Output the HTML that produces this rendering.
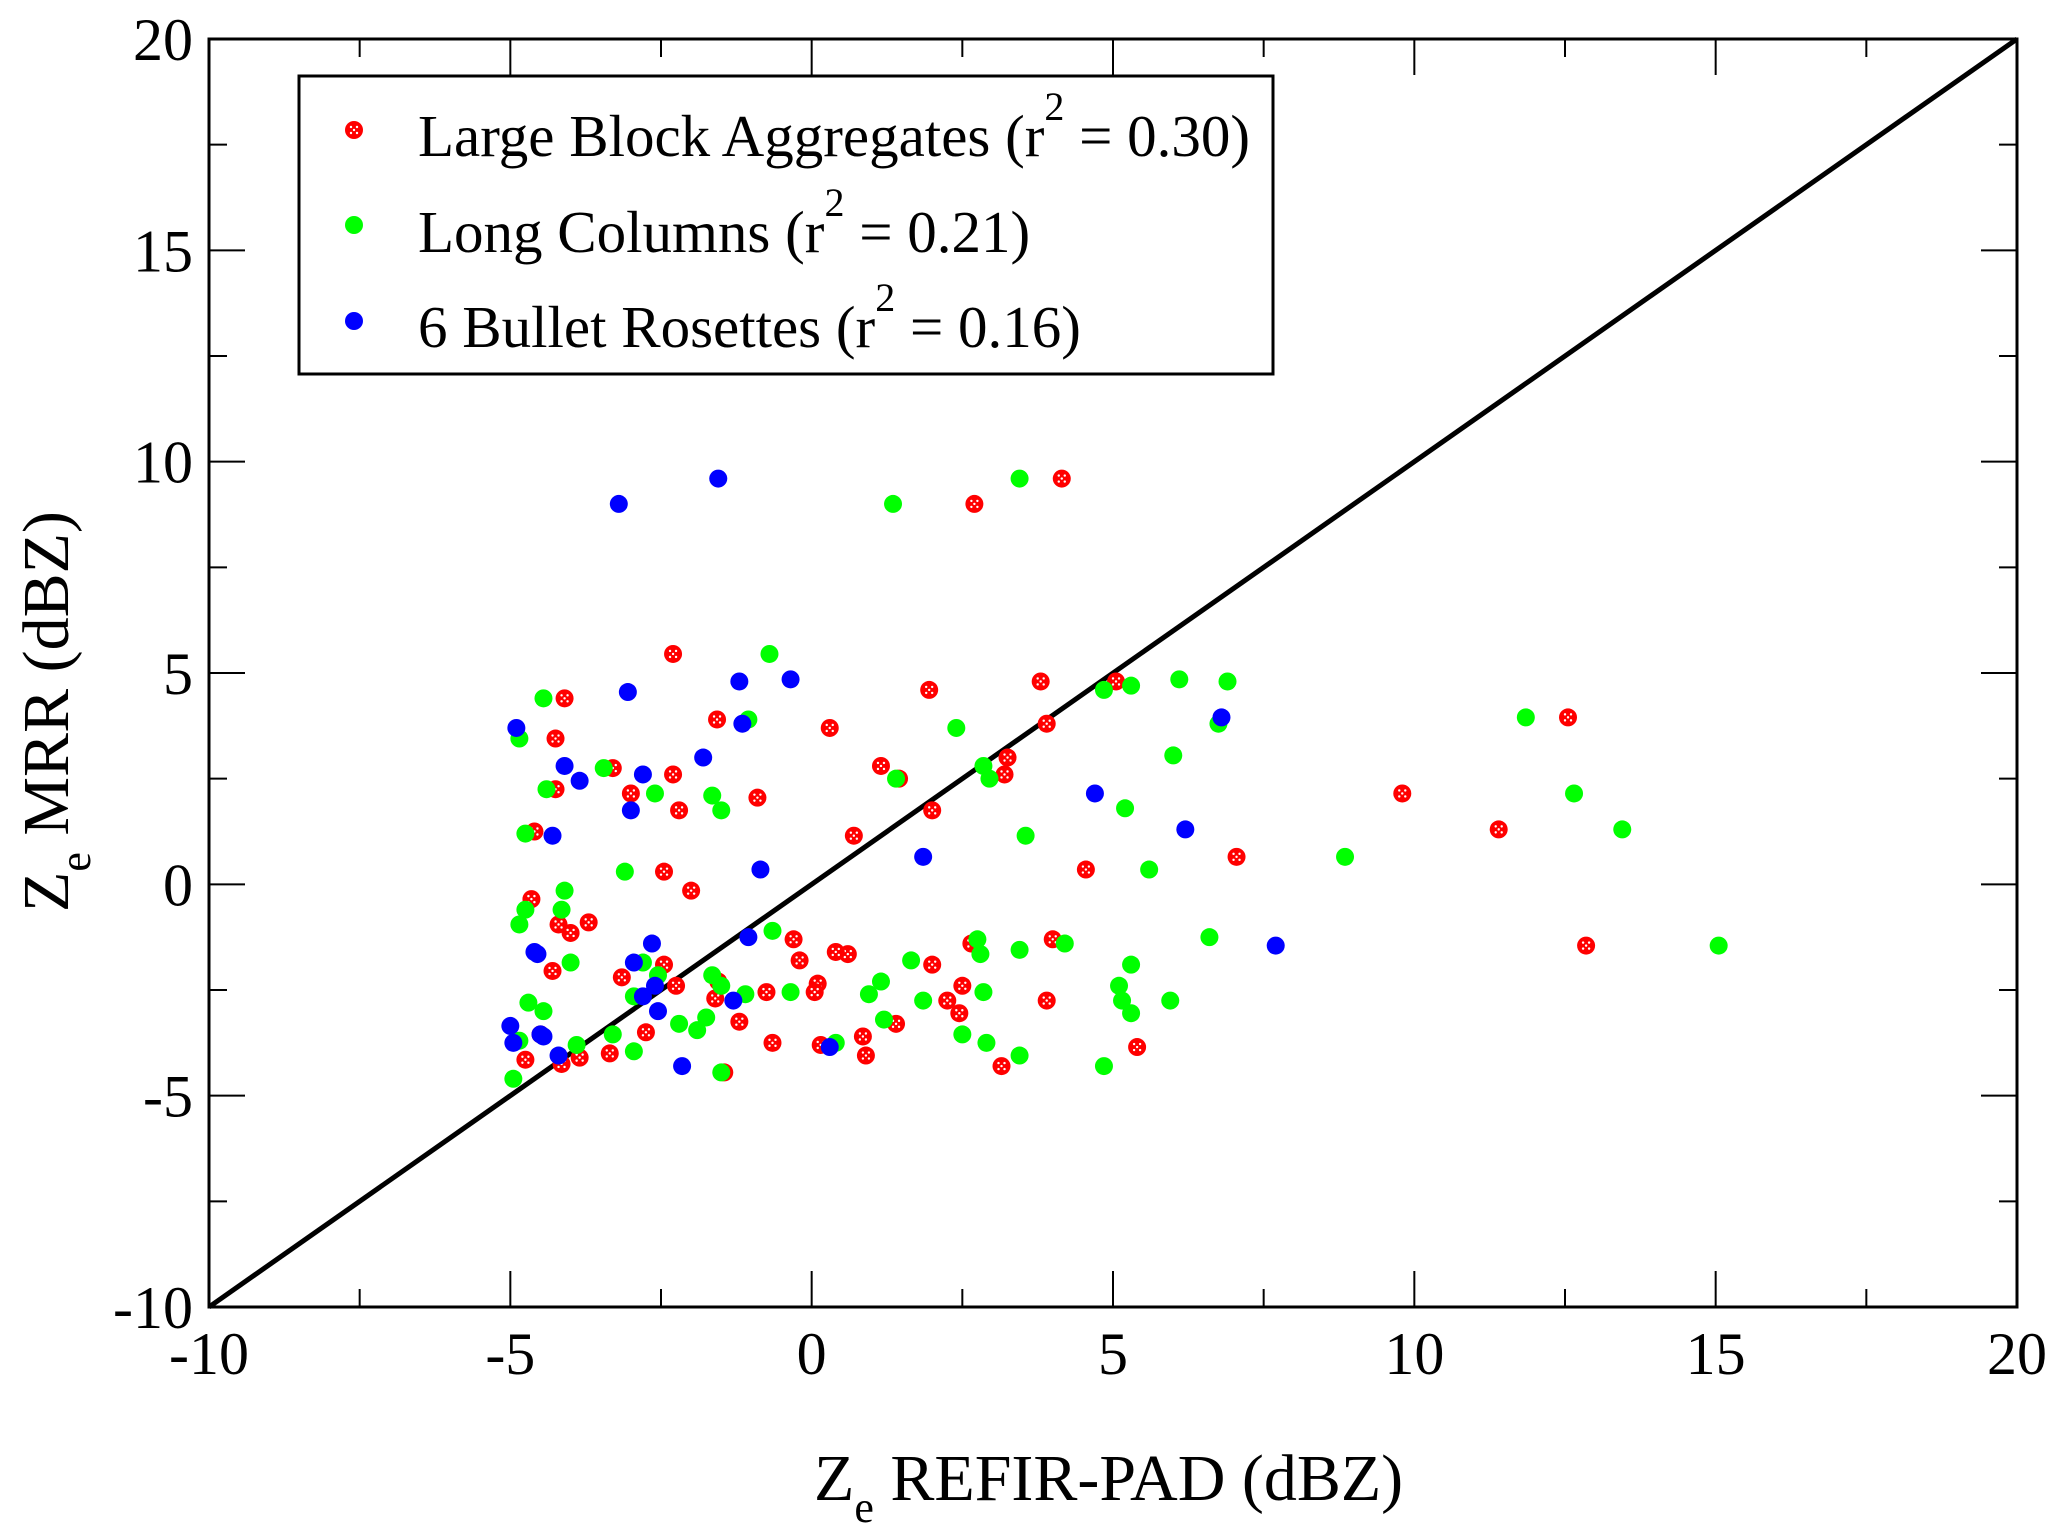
<!DOCTYPE html>
<html><head><meta charset="utf-8"><style>
html,body{margin:0;padding:0;background:#fff}
svg{display:block}
text{font-family:"Liberation Serif",serif;fill:#000}
</style></head><body>
<svg id="chart" width="2067" height="1540" viewBox="0 0 2067 1540" xmlns="http://www.w3.org/2000/svg">
<g id="grid"></g>
<g id="marks"></g>
<g id="legend">
<rect x="299" y="76" width="974" height="298" fill="#fff" stroke="#000" stroke-width="3"/>
<text x="418" y="156" font-size="59">Large Block Aggregates (r<tspan dy="-36" font-size="40">2</tspan><tspan dy="36"> = 0.30)</tspan></text>
<text x="418" y="252" font-size="59">Long Columns (r<tspan dy="-36" font-size="40">2</tspan><tspan dy="36"> = 0.21)</tspan></text>
<text x="418" y="347" font-size="59">6 Bullet Rosettes (r<tspan dy="-36" font-size="40">2</tspan><tspan dy="36"> = 0.16)</tspan></text>
</g>
<text x="814" y="1500" font-size="66">Z<tspan dy="22" font-size="44">e</tspan><tspan dy="-22"> REFIR-PAD (dBZ)</tspan></text>
<text transform="translate(68,912) rotate(-90)" font-size="66">Z<tspan dy="22" font-size="44">e</tspan><tspan dy="-22"> MRR (dBZ)</tspan></text>
</svg>
<script>
const xTicks=[-10,-5,0,5,10,15,20];
const yTicks=[-10,-5,0,5,10,15,20];
const lbaX=[-1.57,-2.3,-4.1,-4.25,-4.25,-4.6,-3.3,-3.0,-2.3,-2.2,-2.45,-2.0,-0.9,0.3,0.7,1.15,1.45,1.95,2.0,2.7,4.15,3.8,3.9,3.25,3.2,5.05,4.55,7.05,9.8,11.4,12.55,12.85,4.0,3.9,3.15,5.4,2.65,2.5,2.25,2.45,2.0,1.4,0.9,0.85,0.6,0.4,0.1,0.05,0.15,-0.2,-0.3,-0.65,-0.75,-1.2,-1.45,-1.6,-1.55,-2.25,-2.45,-2.75,-3.15,-3.35,-3.7,-4.0,-4.2,-4.3,-4.65,-3.85,-4.15,-4.75,-4.5];
const lbaY=[3.9,5.45,4.4,3.45,2.25,1.25,2.75,2.15,2.6,1.75,0.3,-0.15,2.05,3.7,1.15,2.8,2.5,4.6,1.75,9.0,9.6,4.8,3.8,3.0,2.6,4.8,0.35,0.65,2.15,1.3,3.95,-1.45,-1.3,-2.75,-4.3,-3.85,-1.4,-2.4,-2.75,-3.05,-1.9,-3.3,-4.05,-3.6,-1.65,-1.6,-2.35,-2.55,-3.8,-1.8,-1.3,-3.75,-2.55,-3.25,-4.45,-2.7,-2.3,-2.4,-1.9,-3.5,-2.2,-4.0,-0.9,-1.15,-0.95,-2.05,-0.35,-4.1,-4.25,-4.15,-3.55];
const lcX=[-0.7,-4.45,-4.85,-3.45,-4.4,-2.6,-4.75,-3.1,-4.1,-1.65,-1.5,-1.05,1.35,3.45,1.4,2.4,2.85,2.95,4.85,5.3,6.1,6.9,6.75,6.0,5.2,3.55,5.6,8.85,11.85,12.65,13.45,15.05,6.6,5.95,5.3,5.1,5.15,5.3,4.85,4.2,3.45,3.45,2.9,2.85,2.8,2.75,2.5,1.85,1.65,1.15,0.95,1.2,0.4,-0.35,-0.65,-1.1,-1.5,-1.65,-1.75,-1.9,-2.2,-1.5,-2.55,-2.8,-2.95,-2.95,-3.3,-4.0,-3.9,-4.45,-4.7,-4.75,-4.85,-4.15,-4.95,-4.85];
const lcY=[5.45,4.4,3.45,2.75,2.25,2.15,1.2,0.3,-0.15,2.1,1.75,3.9,9.0,9.6,2.5,3.7,2.8,2.5,4.6,4.7,4.85,4.8,3.8,3.05,1.8,1.15,0.35,0.65,3.95,2.15,1.3,-1.45,-1.25,-2.75,-1.9,-2.4,-2.75,-3.05,-4.3,-1.4,-1.55,-4.05,-3.75,-2.55,-1.65,-1.3,-3.55,-2.75,-1.8,-2.3,-2.6,-3.2,-3.75,-2.55,-1.1,-2.6,-2.4,-2.15,-3.15,-3.45,-3.3,-4.45,-2.15,-1.85,-2.65,-3.95,-3.55,-1.85,-3.8,-3.0,-2.8,-0.6,-0.95,-0.6,-4.6,-3.7];
const brX=[-1.55,-3.2,-3.05,-1.2,-0.35,-1.15,-1.8,-2.8,-4.1,-3.85,-4.9,-4.3,-3.0,-0.85,1.85,4.7,6.2,6.8,7.7,-1.05,-1.3,0.3,-2.15,-2.65,-2.6,-2.55,-2.8,-2.95,-4.6,-4.55,-4.5,-4.45,-5.0,-4.95,-4.2];
const brY=[9.6,9.0,4.55,4.8,4.85,3.8,3.0,2.6,2.8,2.45,3.7,1.15,1.75,0.35,0.65,2.15,1.3,3.95,-1.45,-1.25,-2.75,-3.85,-4.3,-1.4,-2.4,-3.0,-2.65,-1.85,-1.6,-1.65,-3.55,-3.6,-3.35,-3.75,-4.05];

const NS='http://www.w3.org/2000/svg';
const L=209,R=2017,T=39,B=1307,XMIN=-10,XMAX=20,YMIN=-10,YMAX=20;
function sx(v){return L+(v-XMIN)/(XMAX-XMIN)*(R-L);}
function sy(v){return B-(v-YMIN)/(YMAX-YMIN)*(B-T);}
function mk(tag,attrs,parent){const e=document.createElementNS(NS,tag);for(const k in attrs)e.setAttribute(k,attrs[k]);parent.appendChild(e);return e;}
const grid=document.getElementById('grid'),marks=document.getElementById('marks');

for(let v=XMIN;v<=XMAX+0.01;v+=2.5){
  const major=Math.abs(v%5)<0.01, len=major?36:18, x=sx(v);
  const t1=mk('line',{x1:x,y1:B,x2:x,y2:B-len,stroke:'#000','stroke-width':2},grid);
  
  
  const t2=mk('line',{x1:x,y1:T,x2:x,y2:T+len,stroke:'#000','stroke-width':2},grid);
  
  
}
for(let v=YMIN;v<=YMAX+0.01;v+=2.5){
  const major=Math.abs(v%5)<0.01, len=major?36:18, y=sy(v);
  const t1=mk('line',{x1:L,y1:y,x2:L+len,y2:y,stroke:'#000','stroke-width':2},grid);
  
  
  const t2=mk('line',{x1:R,y1:y,x2:R-len,y2:y,stroke:'#000','stroke-width':2},grid);
  
  
}
xTicks.forEach(v=>{
  const t=mk('text',{x:sx(v),y:1374,'font-size':60,'text-anchor':'middle'},grid);
  t.textContent=String(v);
  
  
});
yTicks.forEach(v=>{
  const t=mk('text',{x:193,y:sy(v)+21,'font-size':60,'text-anchor':'end'},grid);
  t.textContent=String(v);
  
  
});
const frame=mk('rect',{x:L,y:T,width:R-L,height:B-T,fill:'none',stroke:'#000','stroke-width':3},grid);



const d=mk('line',{x1:sx(-10),y1:sy(-10),x2:sx(20),y2:sy(20),stroke:'#000','stroke-width':5},marks);



function redDot(cx,cy,parent){
  mk('circle',{cx:cx,cy:cy,r:9,fill:'#f00'},parent);
  [[-3,-3],[3,-3],[0,0],[-3,3],[3,3]].forEach(o=>mk('circle',{cx:cx+o[0],cy:cy+o[1],r:1.2,fill:'#fff'},parent));
}
lbaX.forEach((v,i)=>{
  const g=mk('g',{},marks);
  
  
  redDot(sx(v),sy(lbaY[i]),g);
});
lcX.forEach((v,i)=>{
  const c=mk('circle',{cx:sx(v),cy:sy(lcY[i]),r:9,fill:'#0f0'},marks);
  
  
});
brX.forEach((v,i)=>{
  const c=mk('circle',{cx:sx(v),cy:sy(brY[i]),r:9,fill:'#00f'},marks);
  
  
});

const lg=document.getElementById('legend');
const m1=mk('g',{},lg);


redDot(354,130,m1);
const m2=mk('circle',{cx:354,cy:225,r:9,fill:'#0f0'},lg);


const m3=mk('circle',{cx:354,cy:321,r:9,fill:'#00f'},lg);


</script>
</body></html>
